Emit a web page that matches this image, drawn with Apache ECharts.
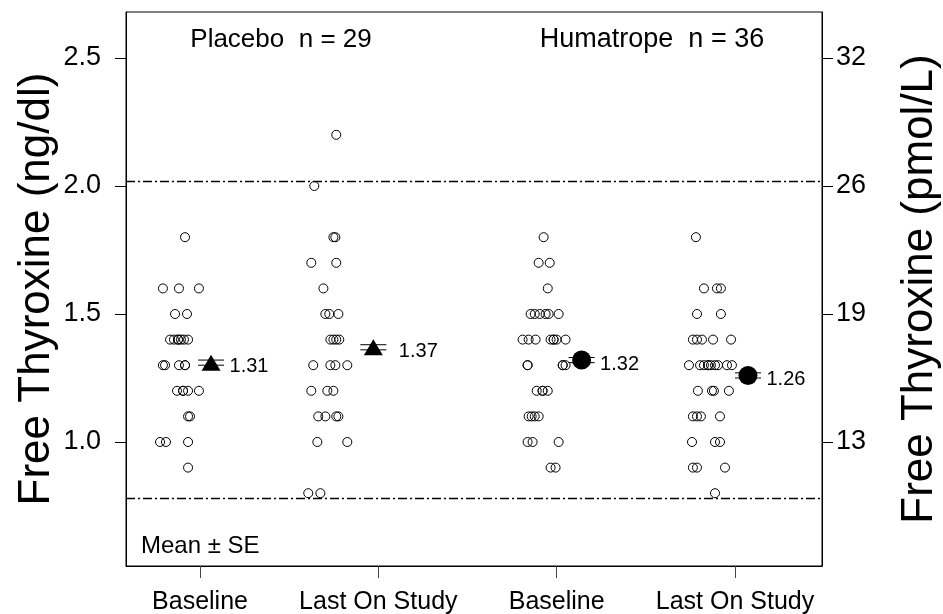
<!DOCTYPE html>
<html>
<head>
<meta charset="utf-8">
<title>Free Thyroxine</title>
<script src="https://cdn.jsdelivr.net/npm/echarts@6/dist/echarts.min.js"></script>
<style>
  html, body { margin: 0; padding: 0; background: #fff; }
  #chart { width: 943px; height: 614px; }
</style>
</head>
<body>
<div id="chart"></div>
<script>
// Timepoint labels under the four columns
const categories = ['Baseline', 'Last On Study', 'Baseline', 'Last On Study'];
const groupTitles = ['Placebo  n = 29', 'Humatrope  n = 36'];

// Individual patients: [jittered column position, free T4 ng/dl]
const placeboBaseline = [
  [0.916, 1.8],
  [0.792, 1.6], [0.882, 1.6], [0.994, 1.6],
  [0.860, 1.5], [0.927, 1.5],
  [0.832, 1.4], [0.854, 1.4], [0.877, 1.4], [0.877, 1.4], [0.893, 1.4], [0.910, 1.4], [0.933, 1.4],
  [0.792, 1.3], [0.804, 1.3], [0.882, 1.3], [0.916, 1.3], [0.916, 1.3],
  [0.871, 1.2], [0.905, 1.2], [0.905, 1.2], [0.933, 1.2], [0.994, 1.2],
  [0.933, 1.1], [0.944, 1.1],
  [0.776, 1.0], [0.809, 1.0], [0.933, 1.0],
  [0.933, 0.9]
];
const placeboLast = [
  [1.764, 2.2],
  [1.641, 2.0],
  [1.748, 1.8], [1.759, 1.8],
  [1.624, 1.7], [1.764, 1.7],
  [1.692, 1.6],
  [1.703, 1.5], [1.725, 1.5], [1.776, 1.5],
  [1.731, 1.4], [1.748, 1.4], [1.764, 1.4], [1.781, 1.4],
  [1.635, 1.3], [1.731, 1.3], [1.759, 1.3], [1.826, 1.3],
  [1.624, 1.2], [1.714, 1.2], [1.748, 1.2],
  [1.663, 1.1], [1.703, 1.1], [1.764, 1.1], [1.776, 1.1],
  [1.658, 1.0], [1.826, 1.0],
  [1.607, 0.8], [1.675, 0.8]
];
const humatropeBaseline = [
  [2.927, 1.8],
  [2.899, 1.7], [2.961, 1.7],
  [2.950, 1.6],
  [2.854, 1.5], [2.877, 1.5], [2.905, 1.5], [2.938, 1.5], [2.955, 1.5], [3.011, 1.5],
  [2.809, 1.4], [2.843, 1.4], [2.882, 1.4], [2.966, 1.4], [2.983, 1.4], [2.983, 1.4], [3.000, 1.4], [3.050, 1.4],
  [2.837, 1.3], [2.837, 1.3], [3.034, 1.3], [3.034, 1.3], [3.050, 1.3],
  [2.888, 1.2], [2.921, 1.2], [2.921, 1.2], [2.950, 1.2],
  [2.843, 1.1], [2.860, 1.1], [2.877, 1.1], [2.899, 1.1],
  [2.837, 1.0], [2.865, 1.0], [3.011, 1.0],
  [2.966, 0.9], [2.994, 0.9]
];
const humatropeLast = [
  [3.781, 1.8],
  [3.826, 1.6], [3.899, 1.6], [3.921, 1.6],
  [3.787, 1.5], [3.921, 1.5],
  [3.764, 1.4], [3.787, 1.4], [3.815, 1.4], [3.877, 1.4], [3.978, 1.4],
  [3.742, 1.3], [3.804, 1.3], [3.826, 1.3], [3.849, 1.3], [3.849, 1.3], [3.865, 1.3], [3.888, 1.3], [3.905, 1.3], [3.955, 1.3], [3.983, 1.3],
  [3.792, 1.2], [3.871, 1.2], [3.882, 1.2], [3.966, 1.2],
  [3.764, 1.1], [3.787, 1.1], [3.809, 1.1], [3.916, 1.1],
  [3.759, 1.0], [3.888, 1.0], [3.916, 1.0],
  [3.764, 0.9], [3.787, 0.9], [3.944, 0.9],
  [3.888, 0.8]
];

// Group means with standard errors
const meanX = [1.062, 1.972, 3.140, 4.073];
const meanValues = [1.31, 1.37, 1.32, 1.26];
const seValues = [0.01, 0.01, 0.01, 0.01];
const meanSymbols = ['triangle', 'triangle', 'circle', 'circle'];

// Normal range limits (ng/dl)
const referenceLimits = [2.02, 0.78];

// Axis ticks: ng/dl on the left, matching pmol/L on the right
const ngTicks = [1.0, 1.5, 2.0, 2.5];
const pmolTickLabels = ['13', '19', '26', '32'];
const columnTicks = [1, 2, 3, 4];

const FONT = '"Liberation Sans", Arial, Helvetica, sans-serif';

const chart = echarts.init(document.getElementById('chart'), null, { renderer: 'canvas' });

const pointStyle = {
  type: 'scatter',
  symbol: 'circle',
  symbolSize: 9,
  itemStyle: { color: 'rgba(0,0,0,0)', borderColor: '#000', borderWidth: 1, opacity: 1 },
  silent: true,
  z: 3
};

const option = {
  animation: false,
  backgroundColor: '#fff',
  textStyle: { fontFamily: FONT },
  grid: {
    left: 126, top: 12, right: 121, bottom: 48,
    outerBoundsMode: 'none',
    containLabel: false,
    show: true, borderColor: '#000', borderWidth: 1
  },
  xAxis: {
    type: 'value',
    min: 0.585, max: 4.488,
    axisLine: { show: true, lineStyle: { color: '#000', width: 1 } },
    axisTick: { show: true, customValues: columnTicks, length: 12, inside: false, lineStyle: { color: '#444', width: 1 } },
    axisLabel: {
      customValues: columnTicks,
      formatter: v => categories[Math.round(v) - 1] || '',
      fontSize: 25, color: '#000', margin: 24, fontFamily: FONT
    },
    splitLine: { show: false }
  },
  yAxis: [
    {
      type: 'value',
      position: 'left',
      min: 0.5156, max: 2.6797,
      name: 'Free Thyroxine (ng/dl)',
      nameLocation: 'middle',
      nameGap: 67,
      nameMoveOverlap: false,
      nameTextStyle: { fontSize: 44, color: '#000', fontFamily: FONT },
      axisLine: { show: true, lineStyle: { color: '#000', width: 1 } },
      axisTick: { show: true, customValues: ngTicks, length: 11, lineStyle: { color: '#000' } },
      axisLabel: {
        customValues: ngTicks,
        formatter: v => v.toFixed(1),
        fontSize: 27, color: '#000', margin: 25, fontFamily: FONT
      },
      splitLine: { show: false }
    },
    {
      type: 'value',
      position: 'right',
      min: 0.5156, max: 2.6797,
      name: 'Free Thyroxine (pmol/L)',
      nameLocation: 'middle',
      nameGap: 76,
      nameMoveOverlap: false,
      nameTextStyle: { fontSize: 44, color: '#000', fontFamily: FONT },
      axisLine: { show: true, lineStyle: { color: '#000', width: 1 } },
      axisTick: { show: true, customValues: ngTicks, length: 11, lineStyle: { color: '#000' } },
      axisLabel: {
        customValues: ngTicks,
        formatter: v => pmolTickLabels[ngTicks.findIndex(t => Math.abs(t - v) < 1e-6)] || '',
        fontSize: 27, color: '#000', margin: 14, fontFamily: FONT
      },
      splitLine: { show: false }
    }
  ],
  series: [
    Object.assign({ name: 'Placebo baseline', data: placeboBaseline }, pointStyle),
    Object.assign({ name: 'Placebo last', data: placeboLast }, pointStyle),
    Object.assign({ name: 'Humatrope baseline', data: humatropeBaseline }, pointStyle),
    Object.assign({ name: 'Humatrope last', data: humatropeLast }, pointStyle),
    {
      // normal range limits
      type: 'line',
      data: [],
      silent: true,
      markLine: {
        silent: true,
        symbol: ['none', 'none'],
        label: { show: false },
        lineStyle: { color: '#000', width: 1.4, type: [9, 3, 2, 3] },
        data: referenceLimits.map(v => ({ yAxis: v }))
      }
    },
    {
      // mean ± SE caps
      type: 'custom',
      silent: true,
      z: 4,
      encode: { x: 0, y: 1 },
      data: meanX.map((x, i) => [x, meanValues[i], seValues[i]]),
      renderItem: (params, api) => {
        const x = api.value(0), m = api.value(1), se = api.value(2);
        const hi = api.coord([x, m + se]);
        const lo = api.coord([x, m - se]);
        const hw = 13;
        const st = { stroke: '#000', lineWidth: 1 };
        return {
          type: 'group',
          children: [
            { type: 'line', shape: { x1: hi[0] - hw, y1: hi[1], x2: hi[0] + hw, y2: hi[1] }, style: st },
            { type: 'line', shape: { x1: lo[0] - hw, y1: lo[1], x2: lo[0] + hw, y2: lo[1] }, style: st },
            { type: 'line', shape: { x1: hi[0], y1: hi[1], x2: lo[0], y2: lo[1] }, style: st }
          ]
        };
      }
    },
    {
      // group means
      type: 'scatter',
      silent: true,
      z: 5,
      data: meanX.map((x, i) => ({
        value: [x, meanValues[i]],
        symbol: meanSymbols[i],
        symbolSize: meanSymbols[i] === 'triangle' ? [19, 16] : 19,
        label: { distance: i === 1 ? 16 : 9 }
      })),
      itemStyle: { color: '#000', opacity: 1 },
      label: {
        show: true,
        position: 'right',
        offset: [0, 4],
        formatter: p => p.value[1].toFixed(2),
        fontSize: 20,
        color: '#000',
        fontFamily: FONT
      }
    }
  ],
  // Group headings and the legend note inside the plot
  graphic: [
    { type: 'text', x: 281, y: 40, style: { text: groupTitles[0], fontSize: 26, fontFamily: FONT, fill: '#000', align: 'center', verticalAlign: 'middle' } },
    { type: 'text', x: 652, y: 40, style: { text: groupTitles[1], fontSize: 27, fontFamily: FONT, fill: '#000', align: 'center', verticalAlign: 'middle' } },
    { type: 'text', x: 141, y: 546, style: { text: 'Mean ± SE', fontSize: 24, fontFamily: FONT, fill: '#000', align: 'left', verticalAlign: 'middle' } }
  ]
};

chart.setOption(option);
</script>
</body>
</html>
